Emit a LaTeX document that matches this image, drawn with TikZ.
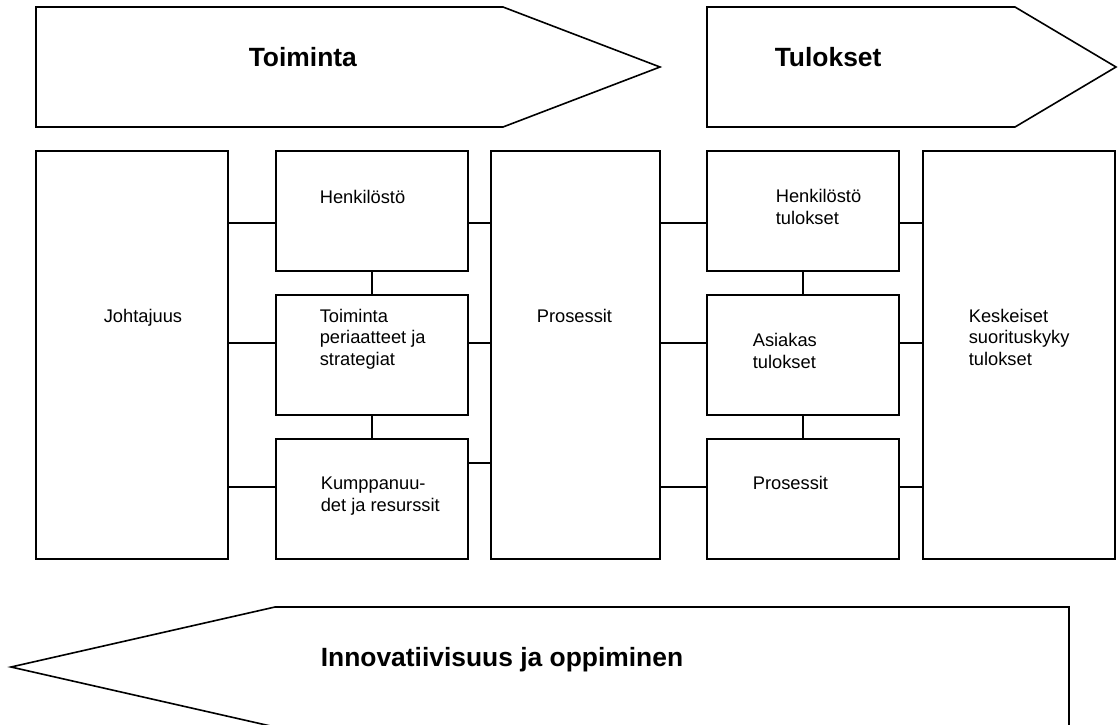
\documentclass[tikz,border=0pt]{standalone}
\usepackage{fontspec}
\setmainfont{Liberation Sans}
\begin{document}
\begin{tikzpicture}[x=1pt, y=-1pt, line width=1.6pt, line join=miter,
  box/.style={draw, rectangle, inner sep=0pt, outer sep=0pt, anchor=north west},
  lbl/.style={anchor=base west, inner sep=0pt, align=left,
    font=\fontsize{18.3}{21.5}\selectfont},
  heading/.style={anchor=base west, inner sep=0pt,
    font=\bfseries\fontsize{26.4}{30}\selectfont},
  link/.style={draw}]
\clip (0,0) rectangle (1119,724);

% phase arrows
\draw (36,7) -- (503,7) -- (660,67) -- (503,127) -- (36,127) -- cycle;
\draw (707,7) -- (1015,7) -- (1116,67) -- (1015,127) -- (707,127) -- cycle;
\draw (1069,607) -- (275,607) -- (11,667) -- (275,727) -- (1069,727) -- cycle;
\node[heading] (tToim) at (248,66) {Toiminta};
\node[heading] (tTul) at (774,66) {Tulokset};
\node[heading] (tInno) at (320,666) {Innovatiivisuus ja oppiminen};

% enabler and result boxes
\node[box, minimum width=192, minimum height=408] (joht) at (36,151) {};
\node[box, minimum width=192, minimum height=120] (hen) at (276,151) {};
\node[box, minimum width=192, minimum height=120] (strat) at (276,295) {};
\node[box, minimum width=192, minimum height=120] (kump) at (276,439) {};
\node[box, minimum width=169, minimum height=408] (pros) at (491,151) {};
\node[box, minimum width=192, minimum height=120] (henT) at (707,151) {};
\node[box, minimum width=192, minimum height=120] (asi) at (707,295) {};
\node[box, minimum width=192, minimum height=120] (prosT) at (707,439) {};
\node[box, minimum width=192, minimum height=408] (kesk) at (923,151) {};

% box labels (multi-line labels sit on the baseline of their last line)
\node[lbl] (lJoht) at (103,322) {Johtajuus};
\node[lbl] (lHen) at (319,203) {Henkilöstö};
\node[lbl] (lStrat) at (319,365) {Toiminta\\periaatteet ja\\strategiat};
\node[lbl] (lKump) at (320,511) {Kumppanuu-\\det ja resurssit};
\node[lbl] (lPros) at (536,322) {Prosessit};
\node[lbl] (lHenT) at (775,224) {Henkilöstö\\tulokset};
\node[lbl] (lAsi) at (752,368) {Asiakas\\tulokset};
\node[lbl] (lProsT) at (752,489) {Prosessit};
\node[lbl] (lKesk) at (968,365) {Keskeiset\\suorituskyky\\tulokset};

% horizontal links
\draw[link] (joht.east |- 0,223) -- (hen.west |- 0,223);
\draw[link] (joht.east |- 0,343) -- (strat.west |- 0,343);
\draw[link] (joht.east |- 0,487) -- (kump.west |- 0,487);
\draw[link] (hen.east |- 0,223) -- (pros.west |- 0,223);
\draw[link] (strat.east |- 0,343) -- (pros.west |- 0,343);
\draw[link] (kump.east |- 0,463) -- (pros.west |- 0,463);
\draw[link] (pros.east |- 0,223) -- (henT.west |- 0,223);
\draw[link] (pros.east |- 0,343) -- (asi.west |- 0,343);
\draw[link] (pros.east |- 0,487) -- (prosT.west |- 0,487);
\draw[link] (henT.east |- 0,223) -- (kesk.west |- 0,223);
\draw[link] (asi.east |- 0,343) -- (kesk.west |- 0,343);
\draw[link] (prosT.east |- 0,487) -- (kesk.west |- 0,487);

% vertical links
\draw[link] (hen.south) -- (strat.north);
\draw[link] (strat.south) -- (kump.north);
\draw[link] (henT.south) -- (asi.north);
\draw[link] (asi.south) -- (prosT.north);
\end{tikzpicture}
\end{document}
